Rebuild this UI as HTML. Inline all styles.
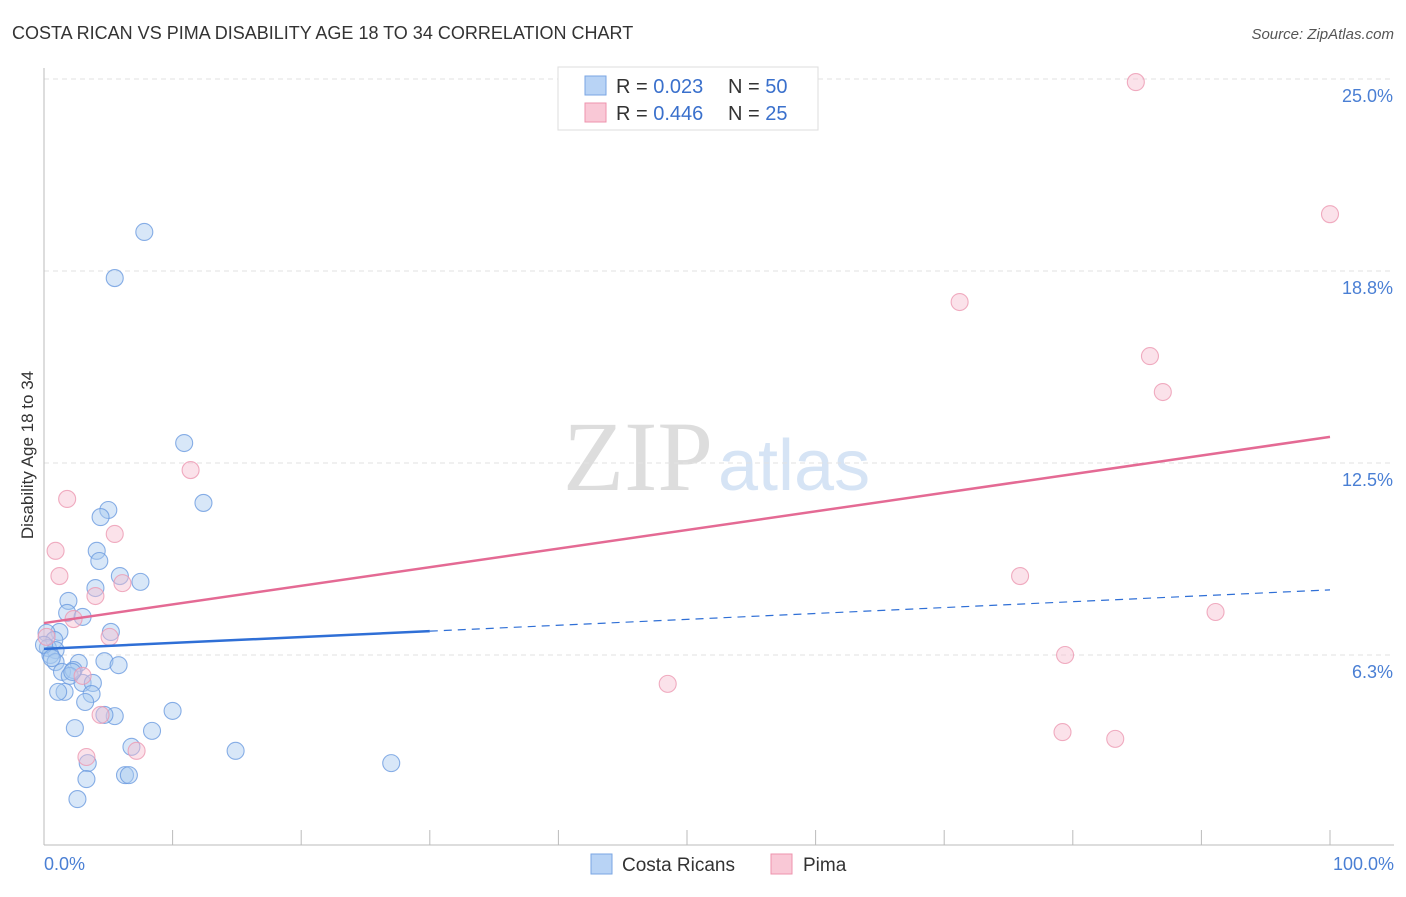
<!DOCTYPE html>
<html><head><meta charset="utf-8"><style>
body{margin:0;background:#fff;font-family:"Liberation Sans",sans-serif;}
svg text{font-family:"Liberation Sans",sans-serif;}
</style></head><body>
<svg id="c" width="1406" height="892" xmlns="http://www.w3.org/2000/svg">
<text x="12" y="39" font-size="18" fill="#333">COSTA RICAN VS PIMA DISABILITY AGE 18 TO 34 CORRELATION CHART</text>
<text x="1394" y="39" font-size="15" fill="#555" font-style="italic" text-anchor="end">Source: ZipAtlas.com</text>
<g><text x="713" y="490" font-size="100" fill="#ddd" text-anchor="end" style="font-family:'Liberation Serif',serif">ZIP</text><text x="718" y="490" font-size="72" fill="#d6e4f5">atlas</text></g>
<g id="grid"></g>
<g id="axes"></g>
<g id="marks"></g>
<text x="33" y="455" font-size="17" fill="#333" text-anchor="middle" transform="rotate(-90 33 455)">Disability Age 18 to 34</text>
<text x="44" y="870" font-size="18" fill="#4a7fd4">0.0%</text>
<text x="1394" y="870" font-size="18" fill="#4a7fd4" text-anchor="end">100.0%</text>
<g>
<rect x="558" y="67" width="260" height="63" fill="#fff" stroke="#ddd"/>
<rect x="585" y="76" width="21" height="19" fill="#b8d3f5" stroke="#7aa6e3"/>
<rect x="585" y="103" width="21" height="19" fill="#f9c8d6" stroke="#ee93ad"/>
<text x="616" y="93" font-size="20" fill="#333">R = <tspan fill="#3a70cc">0.023</tspan><tspan x="728">N = </tspan><tspan fill="#3a70cc">50</tspan></text>
<text x="616" y="120" font-size="20" fill="#333">R = <tspan fill="#3a70cc">0.446</tspan><tspan x="728">N = </tspan><tspan fill="#3a70cc"> 25</tspan></text>
</g>
<g>
<rect x="591" y="854" width="21" height="20" fill="#b8d3f5" stroke="#7aa6e3"/>
<text x="622" y="871" font-size="19" fill="#333">Costa Ricans</text>
<rect x="771" y="854" width="21" height="20" fill="#f9c8d6" stroke="#ee93ad"/>
<text x="803" y="871" font-size="19" fill="#333">Pima</text>
</g>
</svg>
<script>
const yTicks=[6.25,12.5,18.75,25];
const yTickLabels=["6.3%","12.5%","18.8%","25.0%"];
const xTicks=[0,10,20,30,40,50,60,70,80,90,100];
const blueX=[7.8,5.5,10.9,12.4,5.0,4.4,4.1,4.3,5.9,7.5,4.0,1.9,1.8,3.0,5.2,1.2,0.2,0.8,0.3,0.9,0.5,2.7,4.7,0.9,5.8,1.4,2.3,2.0,3.0,3.8,3.7,1.6,1.1,3.2,5.5,4.7,10.0,8.4,2.4,6.8,14.9,27.0,3.4,3.3,6.3,6.6,2.6,0.0,0.6,2.2];
const blueY=[20.02,18.52,13.15,11.2,10.97,10.74,9.64,9.31,8.82,8.63,8.43,8.01,7.62,7.49,7.0,7.0,6.97,6.74,6.48,6.41,6.25,5.99,6.05,6.02,5.92,5.70,5.76,5.57,5.34,5.34,4.98,5.05,5.05,4.72,4.26,4.30,4.43,3.78,3.87,3.26,3.13,2.73,2.73,2.21,2.34,2.34,1.56,6.58,6.15,5.70];
const pinkX=[84.9,100,71.2,86.0,87.0,11.4,1.8,5.5,0.9,1.2,75.9,4.0,6.1,91.1,2.3,5.1,0.2,79.4,3.0,48.5,4.4,79.2,83.3,3.3,7.2];
const pinkY=[24.9,20.6,17.74,15.98,14.81,12.27,11.33,10.19,9.64,8.82,8.82,8.17,8.59,7.65,7.42,6.84,6.84,6.25,5.57,5.31,4.30,3.74,3.52,2.93,3.13];
const pinkTrend=[7.29,13.35];
const blueTrend=[6.45,8.37];
const blueSolidEnd=30;
const NS="http://www.w3.org/2000/svg";
const X=v=>44+v*12.86, Y=v=>847-v*30.72;
function mk(t,a,p){const e=document.createElementNS(NS,t);for(const k in a)e.setAttribute(k,a[k]);p.appendChild(e);return e;}
const grid=document.getElementById('grid'),axes=document.getElementById('axes'),marks=document.getElementById('marks');
yTicks.forEach((v,i)=>{
 const l=mk('line',{x1:44,x2:1394,y1:Y(v),y2:Y(v),stroke:'#e2e2e2','stroke-dasharray':'5,4'},grid);
 
 
 const t=mk('text',{x:1393,y:Y(v)+23,'font-size':18,fill:'#4a7fd4','text-anchor':'end'},grid);t.textContent=yTickLabels[i];
 
 
});
const ya=mk('line',{x1:44,x2:44,y1:68,y2:845,stroke:'#bbb'},axes);


const xa=mk('line',{x1:44,x2:1394,y1:845,y2:845,stroke:'#bbb'},axes);


xTicks.forEach(v=>{const t=mk('line',{x1:X(v),x2:X(v),y1:830,y2:845,stroke:'#bbb'},axes);
 
 });
function pts(xs,ys,fill,stroke,name){xs.forEach((x,i)=>{const c=mk('circle',{cx:X(x),cy:Y(ys[i]),r:8.5,fill:fill,'fill-opacity':0.45,stroke:stroke,'stroke-opacity':0.8,'stroke-width':1.1},marks);
 
 });}
pts(blueX,blueY,'#a9c9f0','#6b9be0','costa-rican-point');
pts(pinkX,pinkY,'#f7bfd0','#ec98b2','pima-point');
const bs=blueTrend[0]+(blueTrend[1]-blueTrend[0])*blueSolidEnd/100;
const b1=mk('line',{x1:X(0),y1:Y(blueTrend[0]),x2:X(blueSolidEnd),y2:Y(bs),stroke:'#2f6fd6','stroke-width':2.5},marks);


const b2=mk('line',{x1:X(blueSolidEnd),y1:Y(bs),x2:X(100),y2:Y(blueTrend[1]),stroke:'#2f6fd6','stroke-width':1.2,'stroke-dasharray':'8,6'},marks);


const p1=mk('line',{x1:X(0),y1:Y(pinkTrend[0]),x2:X(100),y2:Y(pinkTrend[1]),stroke:'#e46a94','stroke-width':2.5},marks);


</script>
</body></html>
